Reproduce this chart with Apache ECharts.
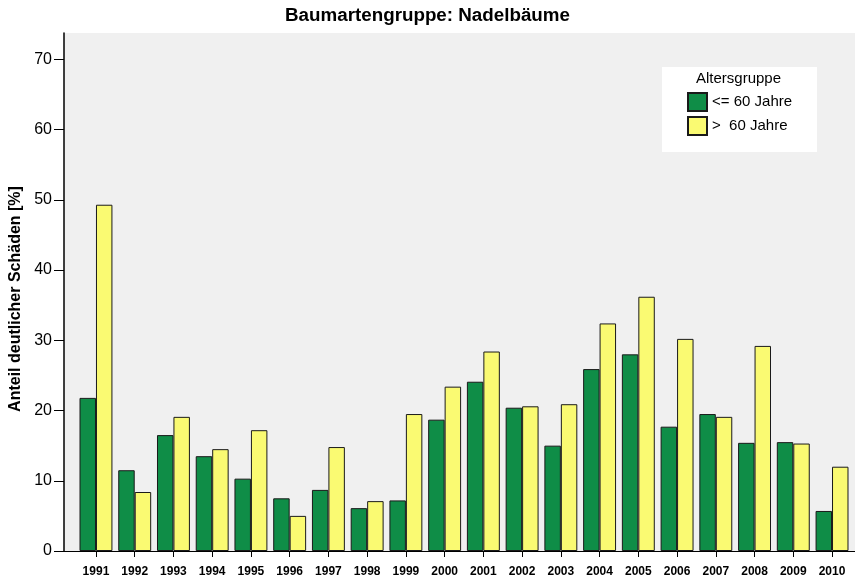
<!DOCTYPE html>
<html>
<head>
<meta charset="utf-8">
<script src="https://cdn.jsdelivr.net/npm/echarts@6/dist/echarts.min.js"></script>
<style>
  html, body { margin: 0; padding: 0; background: #fff; }
  #chart { width: 855px; height: 581px; }
</style>
</head>
<body>
<div id="chart"></div>
<script>
// Jahre
var years = ['1991', '1992', '1993', '1994', '1995', '1996', '1997', '1998', '1999', '2000',
             '2001', '2002', '2003', '2004', '2005', '2006', '2007', '2008', '2009', '2010'];
// Anteil deutlicher Schäden [%], <= 60 Jahre
var jung = [21.8, 11.5, 16.5, 13.5, 10.3, 7.5, 8.7, 6.1, 7.2, 18.7,
            24.1, 20.4, 15.0, 25.9, 28.0, 17.7, 19.5, 15.4, 15.5, 5.7];
// > 60 Jahre
var alt = [49.3, 8.4, 19.1, 14.5, 17.2, 5.0, 14.8, 7.1, 19.5, 23.4,
           28.4, 20.6, 20.9, 32.4, 36.2, 30.2, 19.1, 29.2, 15.3, 12.0];
var yTicks = [0, 10, 20, 30, 40, 50, 60, 70];
var yMax = 73.75;

var font = 'Liberation Sans, Arial, Helvetica, sans-serif';
var chart = echarts.init(document.getElementById('chart'));

chart.setOption({
  animation: false,
  textStyle: { fontFamily: font },
  title: [
    {
      text: 'Baumartengruppe: Nadelbäume',
      left: 'center',
      top: 6,
      padding: [0, 0, 0, 6],
      textStyle: { fontSize: 18.8, fontWeight: 'bold', color: '#000', fontFamily: font }
    },
    {
      text: 'Altersgruppe',
      left: 696,
      top: 71,
      padding: 0,
      z: 10,
      textStyle: { fontSize: 15, fontWeight: 'normal', color: '#000', fontFamily: font }
    }
  ],
  legend: {
    orient: 'vertical',
    left: 662,
    top: 67,
    padding: [25, 25, 16, 25],
    backgroundColor: '#fff',
    itemWidth: 19,
    itemHeight: 18,
    itemGap: 4,
    icon: 'rect',
    textStyle: { fontSize: 15, color: '#000', fontFamily: font },
    data: ['<= 60 Jahre', '>  60 Jahre']
  },
  grid: [
    // Rahmen / Hintergrund
    { left: 64, top: 33, right: -20, bottom: 30, show: true, backgroundColor: '#f0f0f0',
      borderWidth: 0, outerBoundsMode: 'none' },
    // Balken
    { left: 76.6, top: 33, right: 3.6, bottom: 30, outerBoundsMode: 'none' }
  ],
  xAxis: [
    {
      gridIndex: 0, type: 'value', position: 'top', min: 0, max: 1,
      axisLine: { show: true, lineStyle: { color: '#000', width: 1 } },
      axisTick: { show: false }, axisLabel: { show: false }, splitLine: { show: false }
    },
    {
      gridIndex: 1, type: 'category', data: years,
      axisLine: { show: true, lineStyle: { color: '#000', width: 1 } },
      axisTick: { show: true, alignWithLabel: true, length: 6, lineStyle: { color: '#000' } },
      axisLabel: { fontSize: 12, fontWeight: 'bold', color: '#000', margin: 15, interval: 0 },
      splitLine: { show: false }
    }
  ],
  yAxis: [
    {
      gridIndex: 0, type: 'value', min: 0, max: yMax,
      name: 'Anteil deutlicher Schäden [%]',
      nameLocation: 'middle',
      nameGap: 31,
      nameTextStyle: { fontSize: 16, fontWeight: 'bold', color: '#000', fontFamily: font,
                       padding: [0, 14, 0, 0] },
      axisLine: { show: true, lineStyle: { color: '#000', width: 1.5 } },
      axisTick: { show: true, length: 10, customValues: yTicks, lineStyle: { color: '#000' } },
      axisLabel: { fontSize: 16, color: '#000', margin: 12, customValues: yTicks },
      splitLine: { show: false }
    },
    {
      gridIndex: 1, type: 'value', min: 0, max: yMax, show: false, splitLine: { show: false }
    }
  ],
  series: [
    {
      name: '<= 60 Jahre',
      type: 'bar',
      xAxisIndex: 1, yAxisIndex: 1,
      data: jung,
      barGap: '0%',
      barCategoryGap: '15%',
      itemStyle: { color: '#0f8d47', borderColor: '#1a1a1a', borderWidth: 1 }
    },
    {
      name: '>  60 Jahre',
      type: 'bar',
      xAxisIndex: 1, yAxisIndex: 1,
      data: alt,
      barGap: '0%',
      barCategoryGap: '15%',
      itemStyle: { color: '#fafa72', borderColor: '#1a1a1a', borderWidth: 1 }
    }
  ]
});
</script>
</body>
</html>
